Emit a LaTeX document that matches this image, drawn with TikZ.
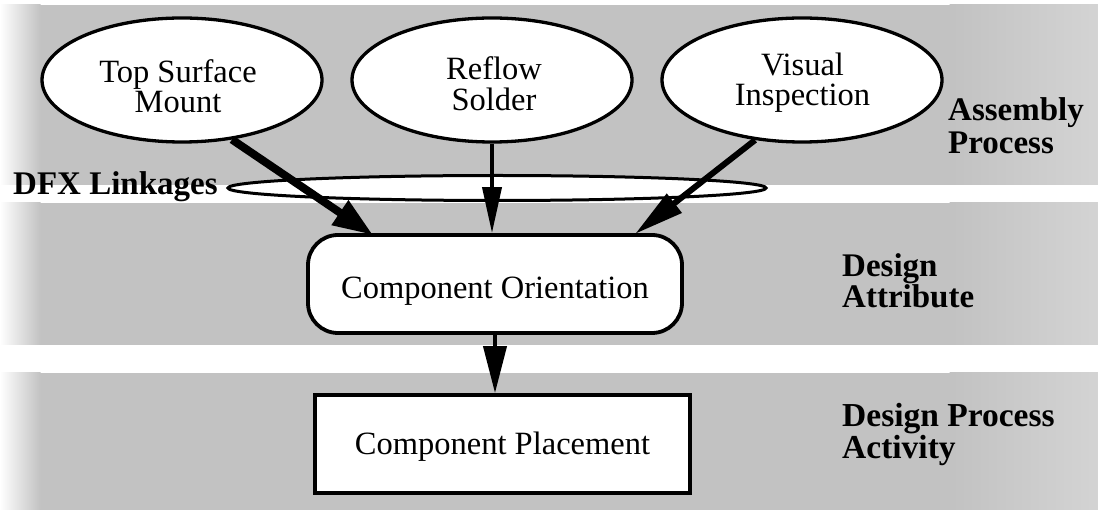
\documentclass[tikz,border=0pt]{standalone}
\usepackage{fontspec}
\setmainfont{Liberation Serif}
\usetikzlibrary{arrows.meta,shapes.geometric}
\definecolor{stipple}{gray}{0.76}
\definecolor{stipplelight}{gray}{0.83}
\begin{document}
\begin{tikzpicture}[x=1pt,y=-1pt,
  proc/.style={ellipse,draw,fill=white,line width=3.3pt,
    minimum width=280pt,minimum height=124pt,inner sep=0pt},
  ptext/.style={font=\fontsize{32.5}{30}\selectfont,align=center,anchor=north,inner sep=0pt},
  box/.style={draw,fill=white,line width=3.8pt,minimum height=98pt,inner sep=0pt,
    font=\fontsize{32.5}{31}\selectfont},
  lab/.style={font=\bfseries\fontsize{33}{33}\selectfont,align=left,inner sep=0pt},
]
\useasboundingbox (0,0) rectangle (1098,510);

% stippled layer bands
\foreach \t/\b in {5/185,203/345,373/510}{
  \fill[stipple] (40,\t) rectangle (950,\b);
  \shade[left color=white,right color=stipple] (0,\t) rectangle (40.5,\b);
  \shade[left color=stipple,right color=stipplelight] (949.5,\t) rectangle (1098,\b);
}

% assembly processes
\node[proc] (tsm) at (182,80) {};
\node[proc] (rs)  at (492,80) {};
\node[proc] (vi)  at (802,80) {};
\node[ptext] (tsmt) at (178,59.8) {Top Surface\\Mount};
\node[ptext,font=\fontsize{32.5}{31}\selectfont] (rst) at (494,56.8) {Reflow\\Solder};
\node[ptext] (vit) at (802.5,52.8) {Visual\\Inspection};

% linkage ring
\node[ellipse,draw,fill=white,line width=3pt,minimum width=538pt,minimum height=25pt,
  inner sep=0pt] (dfx) at (497,188) {};

% design attribute and activity
\node[box,rounded corners=30pt,minimum width=374pt,text height=28.6pt,text depth=0pt]
  (co) at (495,284) {Component Orientation};
\node[box,minimum width=375pt,text height=22pt,text depth=0pt]
  (cp) at (502.5,444) {Component Placement};

\coordinate (t1) at (373,235);
\coordinate (t3) at (635,234);

% connectors
\draw[line width=8pt,-{Triangle[length=40pt,width=28pt]}] (tsm.-50) -- (t1);
\draw[line width=3.8pt,-{Triangle[length=46pt,width=19pt]}] (rs.south) -- (rs.south |- co.north);
\draw[line width=6pt,-{Triangle[length=50pt,width=23pt]}] (vi.-128) -- (t3);
\draw[line width=4pt,-{Triangle[length=47pt,width=23pt]}] (co.south) -- (co.south |- cp.north);

% layer labels
\node[lab,anchor=base west] (dfxl) at (13,195) {DFX Linkages};
\node[lab,anchor=north west] (asm) at (948,97.7) {Assembly\\Process};
\node[lab,anchor=north west,font=\bfseries\fontsize{33}{31}\selectfont] (da) at (842,253.5) {Design\\Attribute};
\node[lab,anchor=north west,font=\bfseries\fontsize{33.5}{27}\selectfont] (dpa) at (842,403.5) {Design Process\\Activity};
\end{tikzpicture}
\end{document}
